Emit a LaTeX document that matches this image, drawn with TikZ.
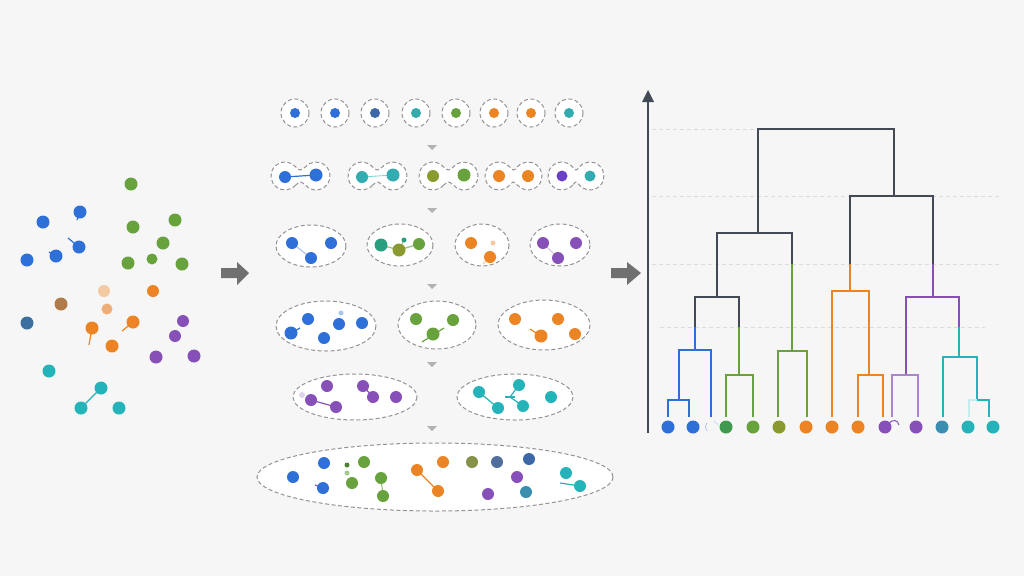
\documentclass[tikz,border=0pt]{standalone}
\usepackage{tikz}
\definecolor{bg}{HTML}{F6F6F6}
\definecolor{cblue}{HTML}{2E6FD8}
\definecolor{cgreen}{HTML}{67A23C}
\definecolor{cgreenb}{HTML}{3F9A50}
\definecolor{colive}{HTML}{8A9A30}
\definecolor{corange}{HTML}{EC8423}
\definecolor{cpurple}{HTML}{8650B8}
\definecolor{cteal}{HTML}{25B3BA}
\definecolor{csteel}{HTML}{3C68A8}
\definecolor{cstealteal}{HTML}{3A8FB0}
\definecolor{cdark}{HTML}{434A55}
\definecolor{carrow}{HTML}{707070}
\definecolor{cdash}{HTML}{939393}
\definecolor{cgrid}{HTML}{DCDCDC}
\definecolor{clorange}{HTML}{F2C9A0}
\definecolor{cmorange}{HTML}{EFAE78}
\definecolor{cbrown}{HTML}{B07A4A}
\definecolor{cdblue}{HTML}{3A6FA0}
\definecolor{ctgreen}{HTML}{2A9F80}
\newcommand\mydot[4]{\fill[#1] (#2,#3) circle (#4);}
\newcommand\mypeanut[3]{%
  \draw[dashbox] ({#1-#3+14*cos(40)},{#2+14*sin(40)}) arc[start angle=40,end angle=320,radius=14]
   .. controls (#1,{#2-5}) .. ({#1+#3+14*cos(220)},{#2+14*sin(220)}) arc[start angle=220,end angle=500,radius=14]
   .. controls (#1,{#2+5}) .. cycle;}
\tikzset{
  dashbox/.style={draw=cdash, line width=1pt, dash pattern=on 4pt off 2.5pt, fill=white},
  dline/.style={line width=1.6pt},
  link/.style={line width=1.2pt},
  gridl/.style={draw=cgrid, line width=0.6pt, dash pattern=on 4pt off 3pt},
  tri/.style={fill=black!30},
}
\begin{document}
\begin{tikzpicture}[x=1pt,y=-1pt]
\fill[bg] (0,0) rectangle (1024,576);
\useasboundingbox (0,0) rectangle (1024,576);

% ---------- left scatter ----------
\draw[cblue,link] (80,212) -- (77,220);
\draw[cblue,link] (68,238) -- (79,247);
\draw[cblue,link] (56,256) -- (49,252);
\draw[corange,link] (133,322) -- (122,331);
\draw[corange,link] (92,328) -- (89,345);
\draw[cteal,link] (101,388) -- (81,408);
\mydot{cgreen}{131}{184}{6.5}
\mydot{cblue}{80}{212}{6.5}
\mydot{cblue}{43}{222}{6.5}
\mydot{cgreen}{133}{227}{6.5}
\mydot{cgreen}{175}{220}{6.5}
\mydot{cblue}{79}{247}{6.5}
\mydot{cgreen}{163}{243}{6.5}
\mydot{cblue}{56}{256}{6.5}
\mydot{cblue}{27}{260}{6.5}
\mydot{cgreen}{128}{263}{6.5}
\mydot{cgreen}{152}{259}{5.5}
\mydot{cgreen}{182}{264}{6.5}
\mydot{clorange}{104}{291}{6}
\mydot{corange}{153}{291}{6}
\mydot{cbrown}{61}{304}{6.5}
\mydot{cmorange}{107}{309}{5.5}
\mydot{cdblue}{27}{323}{6.5}
\mydot{corange}{133}{322}{6.5}
\mydot{cpurple}{183}{321}{6}
\mydot{corange}{92}{328}{6.5}
\mydot{cpurple}{175}{336}{6}
\mydot{corange}{112}{346}{6.5}
\mydot{cpurple}{156}{357}{6.5}
\mydot{cpurple}{194}{356}{6.5}
\mydot{cteal}{49}{371}{6.5}
\mydot{cteal}{101}{388}{6.5}
\mydot{cteal}{81}{408}{6.5}
\mydot{cteal}{119}{408}{6.5}

% ---------- big arrows ----------
\fill[carrow] (221,268) -- (237,268) -- (237,262) -- (249,273) -- (237,285) -- (237,278) -- (221,278) -- cycle;
\fill[carrow] (611,268) -- (627,268) -- (627,262) -- (641,273) -- (627,285) -- (627,278) -- (611,278) -- cycle;

% ---------- row 1 ----------
\foreach \x/\c in {295/cblue,335/cblue,375/csteel,416/cteal!80!gray,456/cgreen,494/corange,531/corange,569/cteal!85!gray}{
  \draw[dashbox] (\x,113) circle (14);
  \fill[\c] (\x,113) circle (5);
}
% triangles
\foreach \y in {145,208,284,362,426}{
  \fill[tri] (427,\y) -- (437,\y) -- (432,{\y+5}) -- cycle;
}

% ---------- row 2 ----------
\mypeanut{300.5}{176}{15.5}
\mypeanut{377.5}{176}{15.5}
\mypeanut{448.5}{176}{15.5}
\mypeanut{513.5}{176}{14.5}
\mypeanut{576}{176}{14}
\draw[cblue,link] (285,177) -- (316,175);
\draw[cteal!60,line width=0.8pt] (362,177) -- (393,175);
\mydot{cblue}{285}{177}{6}
\mydot{cblue}{316}{175}{6.5}
\mydot{cteal!85!gray}{362}{177}{6}
\mydot{cteal!85!gray}{393}{175}{6.5}
\mydot{colive}{433}{176}{6}
\mydot{cgreen}{464}{175}{6.5}
\mydot{corange}{499}{176}{6}
\mydot{corange}{528}{176}{6}
\mydot{cpurple!80!blue}{562}{176}{5.5}
\mydot{cteal!85!gray}{590}{176}{5.5}

% ---------- row 3 ----------
\draw[dashbox] (311,246) ellipse [x radius=35, y radius=21];
\draw[dashbox] (400,245) ellipse [x radius=33, y radius=21];
\draw[dashbox] (482,245) ellipse [x radius=27, y radius=21];
\draw[dashbox] (560,245) ellipse [x radius=30, y radius=21];
\draw[cblue!40,link] (292,243) -- (311,258);
\mydot{cblue}{292}{243}{6}
\mydot{cblue}{331}{243}{6}
\mydot{cblue}{311}{258}{6}
\draw[cgreen!70,link] (381,245) -- (399,250) -- (419,244);
\draw[cgreen!70,line width=0.8pt] (399,250) -- (404,240);
\mydot{ctgreen}{381}{245}{6.5}
\mydot{colive}{399}{250}{6.5}
\mydot{cgreen}{419}{244}{6}
\mydot{ctgreen}{404}{240}{2.5}
\draw[corange!40,link] (490,257) -- (483,264);
\mydot{corange}{471}{243}{6}
\mydot{corange}{490}{257}{6}
\mydot{clorange}{493}{243}{2.5}
\draw[cpurple!30,link] (543,243) -- (558,258);
\mydot{cpurple}{543}{243}{6}
\mydot{cpurple}{576}{243}{6}
\mydot{cpurple}{558}{258}{6}

% ---------- row 4 ----------
\draw[dashbox] (326,326) ellipse [x radius=50, y radius=25];
\draw[dashbox] (437,325) ellipse [x radius=39, y radius=24];
\draw[dashbox] (544,325) ellipse [x radius=46, y radius=25];
\draw[cblue,link] (291,333) -- (300,328);
\mydot{cblue}{308}{319}{6}
\mydot{cblue}{339}{324}{6}
\mydot{cblue}{362}{323}{6}
\mydot{cblue}{291}{333}{6.5}
\mydot{cblue}{324}{338}{6}
\mydot{cblue!40}{341}{313}{2.5}
\draw[cgreen,link] (422,342) -- (444,328);
\mydot{cgreen}{416}{319}{6}
\mydot{cgreen}{453}{320}{6}
\mydot{cgreen}{433}{334}{6.5}
\draw[corange,link] (530,329) -- (541,336);
\mydot{corange}{515}{319}{6}
\mydot{corange}{558}{319}{6}
\mydot{corange}{541}{336}{6.5}
\mydot{corange}{575}{334}{6}

% ---------- row 5 ----------
\draw[dashbox] (355,397) ellipse [x radius=62, y radius=23];
\draw[dashbox] (515,397) ellipse [x radius=58, y radius=23];
\mydot{cpurple!25}{302}{395}{3}
\draw[cpurple,link] (311,400) -- (336,407);
\draw[cpurple,link] (363,386) -- (373,397);
\mydot{cpurple}{327}{386}{6}
\mydot{cpurple}{363}{386}{6}
\mydot{cpurple}{373}{397}{6}
\mydot{cpurple}{396}{397}{6}
\mydot{cpurple}{311}{400}{6}
\mydot{cpurple}{336}{407}{6}
\draw[cteal,link] (479,392) -- (498,408);
\draw[cteal,link] (510,397) -- (519,385);
\draw[cteal,link] (510,397) -- (523,406);
\draw[cteal,link] (505,397) -- (515,397);
\mydot{cteal}{479}{392}{6}
\mydot{cteal}{519}{385}{6}
\mydot{cteal}{498}{408}{6}
\mydot{cteal}{523}{406}{6}
\mydot{cteal}{551}{397}{6}

% ---------- row 6 ----------
\draw[dashbox] (435,477) ellipse [x radius=178, y radius=34];
\draw[cpurple,link] (315,485) -- (323,488);
\mydot{cblue}{293}{477}{6}
\mydot{cblue}{324}{463}{6}
\mydot{cblue}{323}{488}{6}
\mydot{cgreen!80!black}{347}{465}{2.5}
\mydot{cgreen!60}{347}{473}{2.5}
\mydot{cgreen}{364}{462}{6}
\mydot{cgreen}{352}{483}{6}
\mydot{cgreen}{381}{478}{6}
\draw[cgreen,line width=0.8pt] (381,478) -- (383,496);
\mydot{cgreen}{383}{496}{6}
\draw[corange,link] (417,470) -- (438,491);
\mydot{corange}{417}{470}{6}
\mydot{corange}{443}{462}{6}
\mydot{corange}{438}{491}{6}
\mydot{colive!70!gray}{472}{462}{6}
\mydot{csteel!70!gray}{497}{462}{6}
\mydot{csteel}{529}{459}{6}
\mydot{cpurple}{517}{477}{6}
\mydot{cpurple}{488}{494}{6}
\mydot{cstealteal}{526}{492}{6}
\draw[cteal,link] (560,483) -- (580,486);
\mydot{cteal}{566}{473}{6}
\mydot{cteal}{580}{486}{6}

% ---------- dendrogram ----------
\draw[gridl] (652,129) -- (756,129);
\draw[gridl] (652,196) -- (1000,196);
\draw[gridl] (652,264) -- (1000,264);
\draw[gridl] (660,327) -- (985,327);
\draw[cdark, line width=1.6pt] (648,433) -- (648,100);
\fill[cdark] (642,102) -- (654,102) -- (648,90) -- cycle;

\draw[cdark,dline] (758,233) -- (758,129) -- (894,129) -- (894,196);
\draw[cdark,dline] (717,297) -- (717,233) -- (792,233) -- (792,264);
\draw[cdark,dline] (850,264) -- (850,196) -- (933,196) -- (933,264);
\draw[cdark,dline] (695,327) -- (695,297) -- (739,297) -- (739,327);
% blue
\draw[cblue,dline] (695,327) -- (695,350);
\draw[cblue,dline] (679,400) -- (679,350) -- (711,350) -- (711,417);
\draw[cblue,dline] (668,417) -- (668,400) -- (689,400) -- (689,417);
% green
\draw[cgreen,dline] (739,327) -- (739,375);
\draw[cgreen,dline] (726,417) -- (726,375) -- (753,375) -- (753,417);
\draw[cgreen,dline] (792,264) -- (792,351);
\draw[cgreen,dline] (778,417) -- (778,351) -- (807,351) -- (807,417);
% orange
\draw[corange,dline] (850,264) -- (850,291);
\draw[corange,dline] (832,417) -- (832,291) -- (869,291) -- (869,375);
\draw[corange,dline] (858,417) -- (858,375) -- (883,375) -- (883,417);
% purple
\draw[cpurple,dline] (933,264) -- (933,297);
\draw[cpurple,dline] (906,375) -- (906,297) -- (959,297) -- (959,327);
\draw[cpurple!70,dline] (892,417) -- (892,375) -- (918,375) -- (918,417);
% teal
\draw[cteal,dline] (959,327) -- (959,357);
\draw[cteal,dline] (943,417) -- (943,357) -- (977,357) -- (977,400);
\draw[cteal!25,dline] (969,417) -- (969,400) -- (977,400);
\draw[cteal,dline] (977,400) -- (989,400) -- (989,417);

% leaves
\mydot{cblue}{668}{427}{6.5}
\mydot{cblue}{693}{427}{6.5}
\draw[cblue!40,line width=0.8pt] (707,423) .. controls (705,427) .. (707,431);
\draw[cblue!25,line width=0.8pt] (714,421) -- (718,425);
\mydot{cgreenb}{726}{427}{6.5}
\mydot{cgreen}{753}{427}{6.5}
\mydot{colive}{779}{427}{6.5}
\mydot{corange}{806}{427}{6.5}
\mydot{corange}{832}{427}{6.5}
\mydot{corange}{858}{427}{6.5}
\mydot{cpurple}{885}{427}{6.5}
\draw[cpurple,line width=1pt] (889,423) .. controls (893,419) and (898,420) .. (899,425);
\mydot{cpurple}{916}{427}{6.5}
\mydot{cstealteal}{942}{427}{6.5}
\mydot{cteal}{968}{427}{6.5}
\mydot{cteal}{993}{427}{6.5}
\end{tikzpicture}
\end{document}
